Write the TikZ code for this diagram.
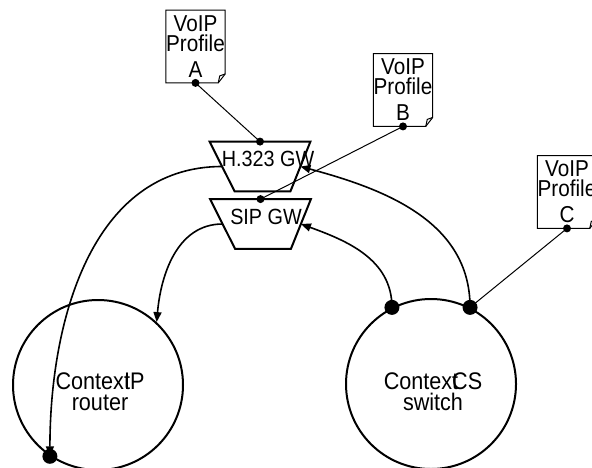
\documentclass[tikz,border=0pt]{standalone}
\usepackage{fontspec}
\setmainfont{Liberation Sans}[FakeStretch=0.9]
\usetikzlibrary{positioning,arrows.meta,calc}

\tikzset{
  profile/.style={minimum width=29pt, minimum height=36pt, inner sep=0pt,
    align=center, font=\fontsize{11.5}{10}\selectfont},
  gateway/.style={minimum width=50pt, minimum height=24.5pt, inner sep=0pt},
  gwline/.style={line width=1pt, line join=miter},
  gwtext/.style={font=\fontsize{11}{10}\selectfont, inner sep=0pt},
  site/.style={circle, draw, line width=1pt, minimum size=85pt, inner sep=0pt},
  sitetext/.style={align=center, font=\fontsize{12}{10.5}\selectfont, inner sep=0pt},
  flow/.style={line width=0.8pt, -{Triangle[length=5pt,width=4pt]}},
  wire/.style={line width=0.5pt}
}

\begin{document}
\begin{tikzpicture}[x=0.5pt, y=0.5pt]
  \useasboundingbox (0,0) rectangle (592,467);

  % Profiles
  \node[profile] (profA) at (195.5,420.5) {VoIP\\Profile\\[3pt]A};
  \node[profile] (profB) at (403,377) {VoIP\\Profile\\[3pt]B};
  \node[profile] (profC) at (567,275) {VoIP\\Profile\\[3pt]C};
  \foreach \p in {profA,profB,profC} {
    \draw[wire] (\p.south west) -- (\p.north west) -- (\p.north east)
      -- ($(\p.south east)+(0,9)$) -- ($(\p.south east)+(-7,0)$) -- cycle;
    \draw[wire] ($(\p.south east)+(-7,0)$) -- ($(\p.south east)+(-5.5,7)$)
      -- ($(\p.south east)+(0,9)$);
  }

  % Gateways
  \node[gateway] (h323) at (260,300.5) {};
  \node[gwtext] (h323lbl) at (268,308) {H.323 GW};
  \node[gateway] (sip) at (260.5,243) {};
  \node[gwtext] (siplbl) at (266,250) {SIP GW};
  \foreach \g in {h323,sip} {
    \draw[gwline] (\g.north west) -- (\g.north east)
      -- ($(\g.south east)+(-20,0)$) -- ($(\g.south west)+(25,0)$) -- cycle;
    \coordinate (\g-r) at ($(\g.east)+(-10,0)$);
    \coordinate (\g-l) at ($(\g.west)+(12.5,0)$);
  }

  % Contexts
  \node[site] (router) at (98,82) {};
  \node[sitetext] (routerlbl) at (100,75) {Contex\rlap{t}IP\\router};
  \node[site] (switch) at (431,83) {};
  \node[sitetext] (switchlbl) at (433,75) {Contex\rlap{t}CS\\switch};

  % Links
  \draw[wire] (profA.south) -- (h323.north);
  \draw[wire] (profB.south) -- (sip.north);
  \draw[wire] (profC.south) -- (switch.63);

  % Calls
  \draw[flow] (switch.63) to[out=90, in=-15] (h323-r);
  \draw[flow] (switch.117) to[out=90, in=-20] (sip-r);
  \draw[flow] (h323-l) to[out=180, in=90] (router.236);
  \draw[flow] (sip-l) to[out=180, in=85] (router.47);

  % Dots
  \foreach \d in {profA.south, profB.south, profC.south, h323.north, sip.north}
    \fill (\d) circle (2pt);
  \foreach \d in {switch.63, switch.117, router.236}
    \fill (\d) circle (3.75pt);
\end{tikzpicture}
\end{document}
